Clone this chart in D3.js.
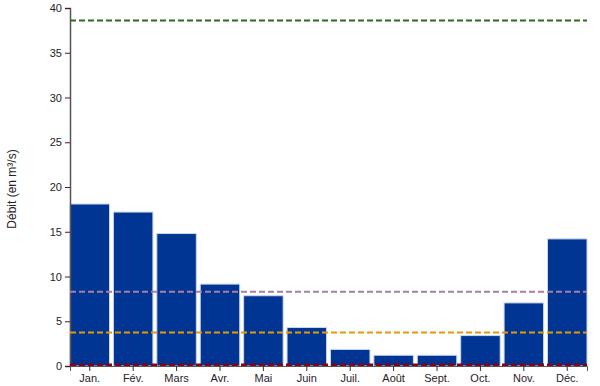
<!DOCTYPE html>
<html>
<head>
<meta charset="utf-8">
<script src="https://cdn.jsdelivr.net/npm/d3@7"></script>
<style>
  body { margin: 0; background: #fff; }
  text { font-family: "Liberation Sans", Arial, sans-serif; }
</style>
</head>
<body>
<div id="chart"></div>
<script>
var months = ["Jan.", "Fév.", "Mars", "Avr.", "Mai", "Juin", "Juil.", "Août", "Sept.", "Oct.", "Nov.", "Déc."];
var debit = [18.1, 17.2, 14.8, 9.15, 7.85, 4.3, 1.85, 1.2, 1.2, 3.4, 7.05, 14.2];
var refValues = [38.6, 8.3, 3.75, 0.15];
var refColors = ["#2e6b1f", "#a6809e", "#e59b00", "#8b0010"];
var yTicks = [0, 5, 10, 15, 20, 25, 30, 35, 40];

var svgWidth = 600;
var svgHeight = 386;
var margin = { top: 8, right: 13, bottom: 20, left: 70 };
var width = svgWidth - margin.left - margin.right;
var height = svgHeight - margin.top - margin.bottom;

var svg = d3.select("#chart")
    .append("svg")
    .attr("width", svgWidth)
    .attr("height", svgHeight);

var chartGroup = svg.append("g")
    .attr("transform", `translate(${margin.left}, ${margin.top})`);

var xScale = d3.scaleBand().domain(months).range([0, width]).paddingInner(0.09).paddingOuter(0);
var yScale = d3.scaleLinear().domain([0, 40]).range([height, 0]);

// bars
chartGroup.selectAll("rect.bar")
    .data(debit)
    .enter()
    .append("rect")
    .attr("class", "bar")
    .attr("x", (d, i) => xScale(months[i]))
    .attr("y", d => yScale(d))
    .attr("width", xScale.bandwidth())
    .attr("height", d => height - yScale(d))
    .attr("fill", "#003594")
    .attr("stroke", "#c9d6ee")
    .attr("stroke-width", 1);

// axes
var leftAxis = d3.axisLeft(yScale).tickValues(yTicks).tickSize(5).tickPadding(3);
var yAxis = chartGroup.append("g").call(leftAxis);
yAxis.select(".domain").attr("stroke", "#555").attr("stroke-width", 1.5);
yAxis.selectAll(".tick line").attr("stroke", "#5a1020");
yAxis.selectAll(".tick text").attr("fill", "#2a1a2a").style("font-size", "11px");

var bottomAxis = d3.axisBottom(xScale).tickSize(5).tickPadding(3);
var xAxis = chartGroup.append("g")
    .attr("transform", `translate(0, ${height})`)
    .call(bottomAxis);
xAxis.select(".domain").attr("stroke", "#555").attr("stroke-width", 1);
xAxis.selectAll(".tick line").attr("stroke", "#333");
xAxis.selectAll(".tick text").attr("fill", "#2a1a2a").style("font-size", "11px");

// reference lines (drawn on top)
chartGroup.selectAll("line.ref")
    .data(refValues)
    .enter()
    .append("line")
    .attr("class", "ref")
    .attr("x1", 0)
    .attr("x2", width)
    .attr("y1", d => yScale(d))
    .attr("y2", d => yScale(d))
    .attr("stroke", (d, i) => refColors[i])
    .attr("stroke-width", (d, i) => i == 3 ? 2.5 : 2)
    .attr("stroke-dasharray", "6,3");

// axis label
svg.append("text")
    .attr("transform", "rotate(-90)")
    .attr("x", -189)
    .attr("y", 16)
    .attr("text-anchor", "middle")
    .style("font-size", "12px")
    .attr("fill", "#222")
    .text("Débit (en m³/s)");
</script>
</body>
</html>
